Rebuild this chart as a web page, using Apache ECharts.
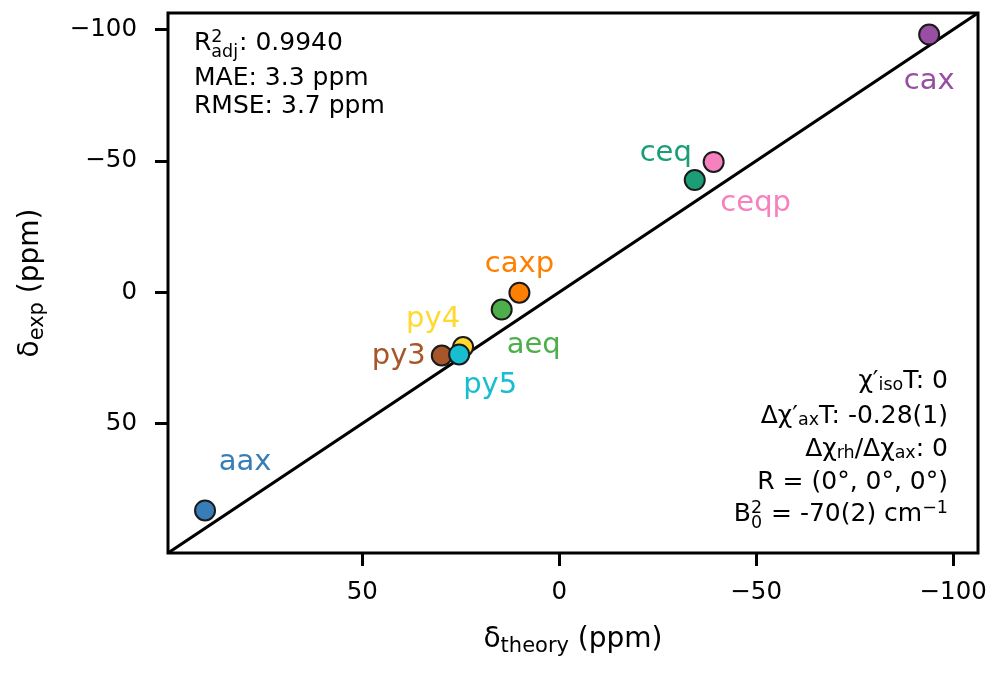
<!DOCTYPE html>
<html>
<head>
<meta charset="utf-8">
<title>Shift correlation</title>
<script src="https://cdn.jsdelivr.net/npm/echarts@6/dist/echarts.min.js"></script>
<style>
  html, body { margin: 0; padding: 0; background: #fff; }
  #chart { width: 1000px; height: 677px; }
</style>
</head>
<body>
<div id="chart"></div>
<script>
// data (ppm)
const names = ['aax', 'aeq', 'caxp', 'cax', 'ceq', 'ceqp', 'py3', 'py4', 'py5'];
const theory = [89.9, 14.6, 10.1, -93.9, -34.4, -39.2, 29.8, 24.4, 25.4];
const experiment = [83.1, 6.6, 0.2, -98.1, -42.7, -49.6, 24.1, 20.9, 23.7];
const tickValues = [-100, -50, 0, 50];
const axisRange = [-106.3, 99.3];

// styling
const colors = ['#377eb8', '#4daf4a', '#ff7f00', '#984ea3', '#1b9e77', '#f781bf', '#a65628', '#ffd92f', '#17becf'];
const labelOffsets = [[40, -48], [32, 36], [0, -28], [0, 47], [-29, -27], [42, 42], [-43, 1], [-30, -28], [31, 31]];

const FONT = 'DejaVu Sans';
const NORMAL = 25;
const SMALL = 17.5;

const measureCtx = document.createElement('canvas').getContext('2d');
function textWidth(str, size) {
    measureCtx.font = size + 'px "' + FONT + '"';
    return measureCtx.measureText(str).width;
}

// pieces: [text] normal, [text, 'sub'], [text, 'sup'], [sup, 'stack', sub]
function mathLine(pieces, x, y, align) {
    const parts = [];
    let w = 0;
    pieces.forEach(function (p) {
        const kind = p[1] || 'n';
        if (kind === 'n') {
            parts.push({ t: p[0], dx: w, dy: 0, size: NORMAL });
            w += textWidth(p[0], NORMAL);
        } else if (kind === 'sub') {
            parts.push({ t: p[0], dx: w, dy: 4.5, size: SMALL });
            w += textWidth(p[0], SMALL);
        } else if (kind === 'sup') {
            parts.push({ t: p[0], dx: w, dy: -6, size: SMALL });
            w += textWidth(p[0], SMALL);
        } else {
            parts.push({ t: p[0], dx: w, dy: -6, size: SMALL });
            parts.push({ t: p[2], dx: w, dy: 9.5, size: SMALL });
            w += Math.max(textWidth(p[0], SMALL), textWidth(p[2], SMALL)) + 1;
        }
    });
    const x0 = align === 'right' ? x - w : x;
    return parts.map(function (it) {
        return {
            type: 'text',
            x: x0 + it.dx,
            y: y + it.dy,
            silent: true,
            z: 100,
            style: {
                text: it.t,
                fontSize: it.size,
                fontFamily: FONT,
                fill: '#000',
                align: 'left',
                verticalAlign: 'middle'
            }
        };
    });
}

const annotations = [].concat(
    mathLine([['R'], ['2', 'stack', 'adj'], [': 0.9940']], 194, 43, 'left'),
    mathLine([['MAE: 3.3 ppm']], 194, 78, 'left'),
    mathLine([['RMSE: 3.7 ppm']], 194, 106.5, 'left'),
    mathLine([['\u03c7\u2032'], ['iso', 'sub'], ['T: 0']], 948, 381, 'right'),
    mathLine([['\u0394\u03c7\u2032'], ['ax', 'sub'], ['T: -0.28(1)']], 948, 416, 'right'),
    mathLine([['\u0394\u03c7'], ['rh', 'sub'], ['/\u0394\u03c7'], ['ax', 'sub'], [': 0']], 948, 449, 'right'),
    mathLine([['R = (0\u00b0, 0\u00b0, 0\u00b0)']], 948, 482, 'right'),
    mathLine([['B'], ['2', 'stack', '0'], [' = -70(2) cm'], ['\u22121', 'sup']], 948, 514, 'right')
);

function tickFormat(v) {
    return v < 0 ? '\u2212' + (-v) : String(v);
}

function axisName(main, sub, rest) {
    return '{m|' + main + '}{s|' + sub + '}{m|' + rest + '}';
}

const nameRich = {
    m: { fontSize: 28, fontFamily: FONT, color: '#000', lineHeight: 34 },
    s: { fontSize: 21, fontFamily: FONT, color: '#000', lineHeight: 22, verticalAlign: 'bottom' }
};

function makeAxis(name, gap) {
    return {
        type: 'value',
        min: axisRange[0],
        max: axisRange[1],
        inverse: true,
        name: name,
        nameLocation: 'middle',
        nameGap: gap,
        nameTextStyle: { rich: nameRich },
        splitLine: { show: false },
        axisLine: { show: false, onZero: false },
        axisTick: {
            show: true,
            length: 13,
            customValues: tickValues,
            lineStyle: { color: '#000', width: 3 }
        },
        axisLabel: {
            customValues: tickValues,
            formatter: tickFormat,
            fontSize: 24.5,
            fontFamily: FONT,
            color: '#000'
        }
    };
}

const chart = echarts.init(document.getElementById('chart'));

const xAxis = makeAxis(axisName('\u03b4', 'theory', ' (ppm)'), 70);
xAxis.axisLabel.margin = 27;
const yAxis = makeAxis(axisName('\u03b4', 'exp', ' (ppm)'), 120);
yAxis.axisLabel.margin = 31;
yAxis.nameRotate = 90;

const option = {
    animation: false,
    backgroundColor: '#fff',
    grid: {
        left: 168,
        right: 22,
        top: 13,
        bottom: 124,
        show: true,
        borderColor: '#000',
        borderWidth: 3,
        backgroundColor: 'transparent'
    },
    xAxis: xAxis,
    yAxis: yAxis,
    series: [
        {
            type: 'line',
            data: [[axisRange[1], axisRange[1]], [axisRange[0], axisRange[0]]],
            showSymbol: false,
            symbol: 'none',
            lineStyle: { color: '#000', width: 3.2 },
            silent: true,
            z: 2
        },
        {
            type: 'scatter',
            symbolSize: 20,
            z: 3,
            itemStyle: { borderColor: '#1a1a1a', borderWidth: 2, opacity: 1 },
            label: {
                show: true,
                position: 'inside',
                formatter: '{b}',
                fontSize: 29,
                fontFamily: FONT
            },
            data: names.map(function (n, i) {
                return {
                    name: n,
                    value: [theory[i], experiment[i]],
                    itemStyle: { color: colors[i] },
                    label: { color: colors[i], offset: labelOffsets[i] }
                };
            })
        }
    ],
    graphic: annotations
};

chart.setOption(option);
</script>
</body>
</html>
